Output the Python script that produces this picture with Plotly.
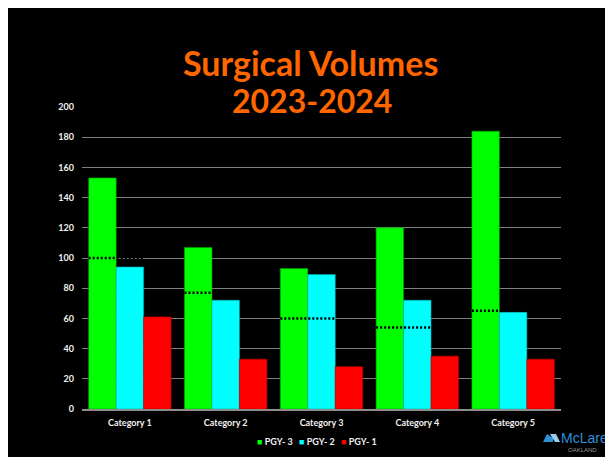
import plotly.graph_objects as go

# ---- data ----
categories = ["Category 1", "Category 2", "Category 3", "Category 4", "Category 5"]
pgy3 = [153, 107, 93, 120, 184]
pgy2 = [94, 72, 89, 72, 64]
pgy1 = [61, 33, 28, 35, 33]
benchmark = [100, 77, 60, 54, 65]
series_names = ["PGY- 3", "PGY- 2", "PGY- 1"]
series_colors = ["#00FF00", "#00FFFF", "#FF0000"]
y_ticks = [0, 20, 40, 60, 80, 100, 120, 140, 160, 180, 200]

# ---- layout geometry (screen pixels; page body adds an 8px offset) ----
OFF = 8
WIDTH, HEIGHT = 613, 457
SL, SR, ST, SB = 82, 561, 107, 409          # plot area on screen
L, R, T, B = SL - OFF, SR - OFF, ST - OFF, SB - OFF
PW, PH = R - L, B - T
BARGAP = 0.14


def px_x(sx):
    return (sx - OFF - L) / PW


def px_y(sy):
    return (B - (sy - OFF)) / PH


xs = list(range(len(categories)))
fig = go.Figure()

outline = ["#00A000", "#00B0B0", "#C00000"]
for name, vals, col, oc in zip(series_names, [pgy3, pgy2, pgy1], series_colors, outline):
    fig.add_trace(go.Bar(
        x=xs, y=vals, name=name,
        marker=dict(color=col, line=dict(color=oc, width=0.6)),
        showlegend=False,
    ))

# dotted benchmark lines spanning the first two bars of each group
bw = (1 - BARGAP) / 3
for i, v in enumerate(benchmark):
    x0 = i - (1 - BARGAP) / 2
    x1 = x0 + 2 * bw
    fig.add_trace(go.Scatter(
        x=[x0, x1], y=[v, v], mode="lines",
        line=dict(color="black", width=2.5, dash="2px,2px"),
        showlegend=False, hoverinfo="skip",
    ))

fig.update_layout(
    width=WIDTH, height=HEIGHT,
    margin=dict(l=L, r=WIDTH - R, t=T, b=HEIGHT - B, pad=0),
    paper_bgcolor="black", plot_bgcolor="black",
    barmode="group", bargap=BARGAP, bargroupgap=0,
    font=dict(family="Lato", color="#F2F2F2"),
    showlegend=False,
)

fig.update_xaxes(
    range=[-0.5, len(categories) - 0.5],
    tickvals=xs, ticktext=categories,
    tickfont=dict(family="Lato", size=9, color="#F2F2F2", weight="bold"),
    showgrid=False, zeroline=False,
    showline=True, linecolor="#8C8C8C", linewidth=2,
    ticks="", ticklabelstandoff=4,
)
fig.update_yaxes(
    range=[0, 200], tickvals=y_ticks,
    tickfont=dict(family="Lato", size=9, color="#F2F2F2", weight="bold"),
    showgrid=True, gridcolor="#7F7F7F", gridwidth=1,
    zeroline=False, showline=False, ticks="", ticklabelstandoff=7,
)

ann = []
# title (two lines)
ann.append(dict(text="<b>Surgical Volumes</b>", x=px_x(310.5), y=px_y(63),
                xref="paper", yref="paper", xanchor="center", yanchor="middle",
                showarrow=False, font=dict(family="Lato", size=34, color="#FF6600")))
ann.append(dict(text="<b>2023-2024</b>", x=px_x(311.5), y=px_y(100),
                xref="paper", yref="paper", xanchor="center", yanchor="middle",
                showarrow=False, font=dict(family="Lato", size=32, color="#FF6600")))

# legend built as text
leg_x = [255, 297, 339]
for name, col, lx in zip(series_names, series_colors, leg_x):
    ann.append(dict(
        text=f'<span style="color:{col}">■</span> <b>{name}</b>',
        x=px_x(lx), y=px_y(441), xref="paper", yref="paper",
        xanchor="left", yanchor="middle", showarrow=False,
        font=dict(family="Lato", size=9, color="#F2F2F2"),
    ))

# logo
ann.append(dict(text="McLaren", x=px_x(559), y=px_y(438), xref="paper", yref="paper",
                xanchor="left", yanchor="middle", showarrow=False,
                font=dict(family="Liberation Sans", size=14, color="#2F8FD8")))
ann.append(dict(text="OAKLAND", x=px_x(582), y=px_y(450), xref="paper", yref="paper",
                xanchor="center", yanchor="middle", showarrow=False,
                font=dict(family="Liberation Sans", size=6, color="#9A9A9A")))
fig.update_layout(annotations=ann)

shapes = []
# logo icon
def pt(sx, sy):
    return f"{px_x(sx)},{px_y(sy)}"
icon_path = ("M " + pt(543, 442) + " L " + pt(547, 434) + " L " + pt(553, 438) +
             " L " + pt(553, 442) + " Z")
icon_path2 = ("M " + pt(550, 434) + " L " + pt(556, 434) + " L " + pt(560, 442) +
              " L " + pt(555, 442) + " Z")
shapes.append(dict(type="path", xref="paper", yref="paper", path=icon_path,
                   fillcolor="#2F8FD8", line=dict(width=0)))
shapes.append(dict(type="path", xref="paper", yref="paper", path=icon_path2,
                   fillcolor="#9ACBEB", line=dict(width=0)))
fig.update_layout(shapes=shapes)

fig.write_html("out.html")
